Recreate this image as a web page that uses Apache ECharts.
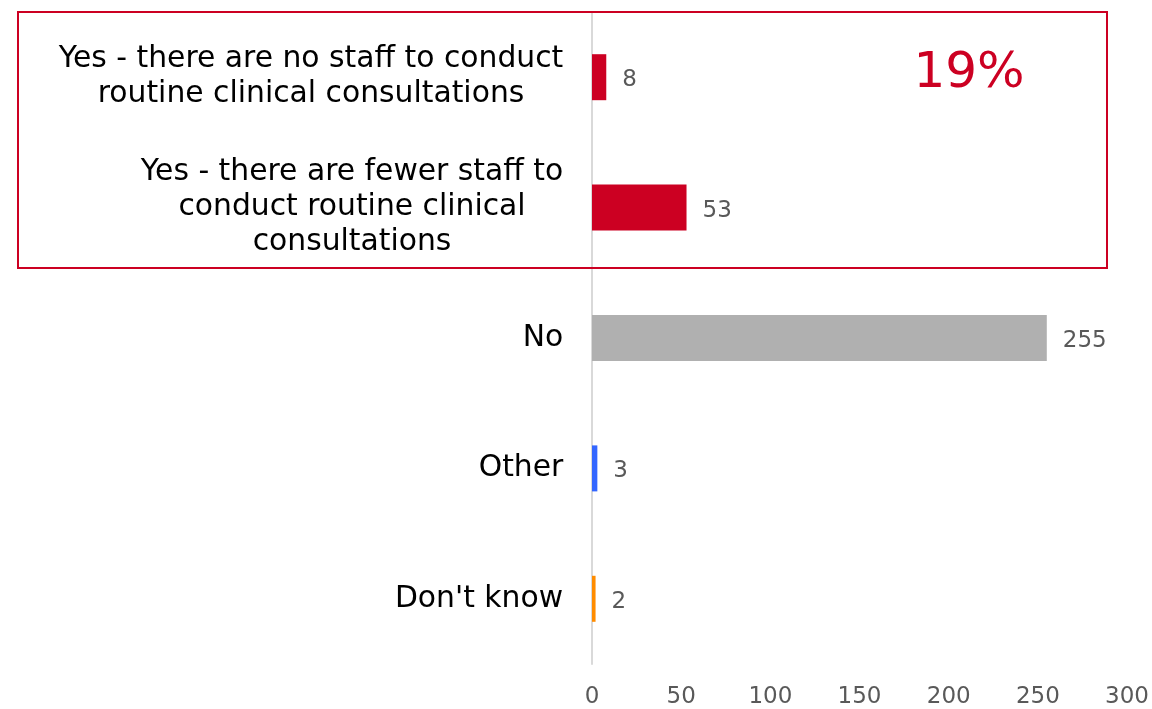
<!DOCTYPE html>
<html><head><meta charset="utf-8">
<script src="https://cdn.jsdelivr.net/npm/echarts@6/dist/echarts.min.js"></script>
<style>html,body{margin:0;padding:0;background:#fff}#c{width:1152px;height:709px}</style>
</head><body><div id="c"></div>
<script>
const categories = [
  "Yes - there are no staff to conduct\nroutine clinical consultations",
  "Yes - there are fewer staff to\nconduct routine clinical\nconsultations",
  "No",
  "Other",
  "Don't know"
];
const values = [8, 53, 255, 3, 2];
const barColors = ["#CC0022", "#CC0022", "#B0B0B0", "#3366FF", "#FF8C00"];
const xTicks = [0, 50, 100, 150, 200, 250, 300];
const highlightText = "19%";

const FONT = "DejaVu Sans";
const LABEL_SIZE = 29.8;
const ctx = document.createElement("canvas").getContext("2d");
ctx.font = LABEL_SIZE + "px '" + FONT + "'";
const rich = {};
categories.forEach((c, i) => {
  const w = Math.max(...c.split("\n").map(l => ctx.measureText(l).width));
  rich["c" + i] = { width: Math.ceil(w) + 1, align: "center", fontFamily: FONT, fontSize: LABEL_SIZE, lineHeight: 35, color: "#000" };
});

const chart = echarts.init(document.getElementById("c"), null, { renderer: "canvas" });
chart.setOption({
  animation: false,
  backgroundColor: "#fff",
  grid: { left: 592, right: 22, top: 12, bottom: 42, containLabel: false },
  xAxis: {
    type: "value", min: xTicks[0], max: xTicks[xTicks.length - 1], interval: 50,
    splitLine: { show: false }, axisLine: { show: false }, axisTick: { show: false },
    axisLabel: { color: "#595959", fontFamily: FONT, fontSize: 23, margin: 22 }
  },
  yAxis: {
    type: "category", inverse: true, data: categories,
    axisLine: { show: true, lineStyle: { color: "#D9D9D9", width: 2 } },
    axisTick: { show: false },
    axisLabel: {
      margin: 28, align: "right",
      formatter: (v, i) => v.split("\n").map(l => "{c" + i + "|" + l + "}").join("\n"),
      rich: rich
    }
  },
  series: [{
    type: "bar", barWidth: 46,
    data: values.map((v, i) => ({ value: v, itemStyle: { color: barColors[i] } })),
    label: { show: true, position: "right", distance: 16, offset: [0, 3], color: "#595959", fontFamily: FONT, fontSize: 23 }
  }],
  graphic: [
    { type: "rect", shape: { x: 18, y: 12, width: 1089, height: 256 }, style: { fill: "none", stroke: "#CC0022", lineWidth: 2 }, z: 10 },
    { type: "text", x: 969, y: 74, style: { text: highlightText, fill: "#CC0022", font: "50px 'DejaVu Sans'", textAlign: "center", textVerticalAlign: "middle" }, z: 10 }
  ]
});
</script></body></html>
